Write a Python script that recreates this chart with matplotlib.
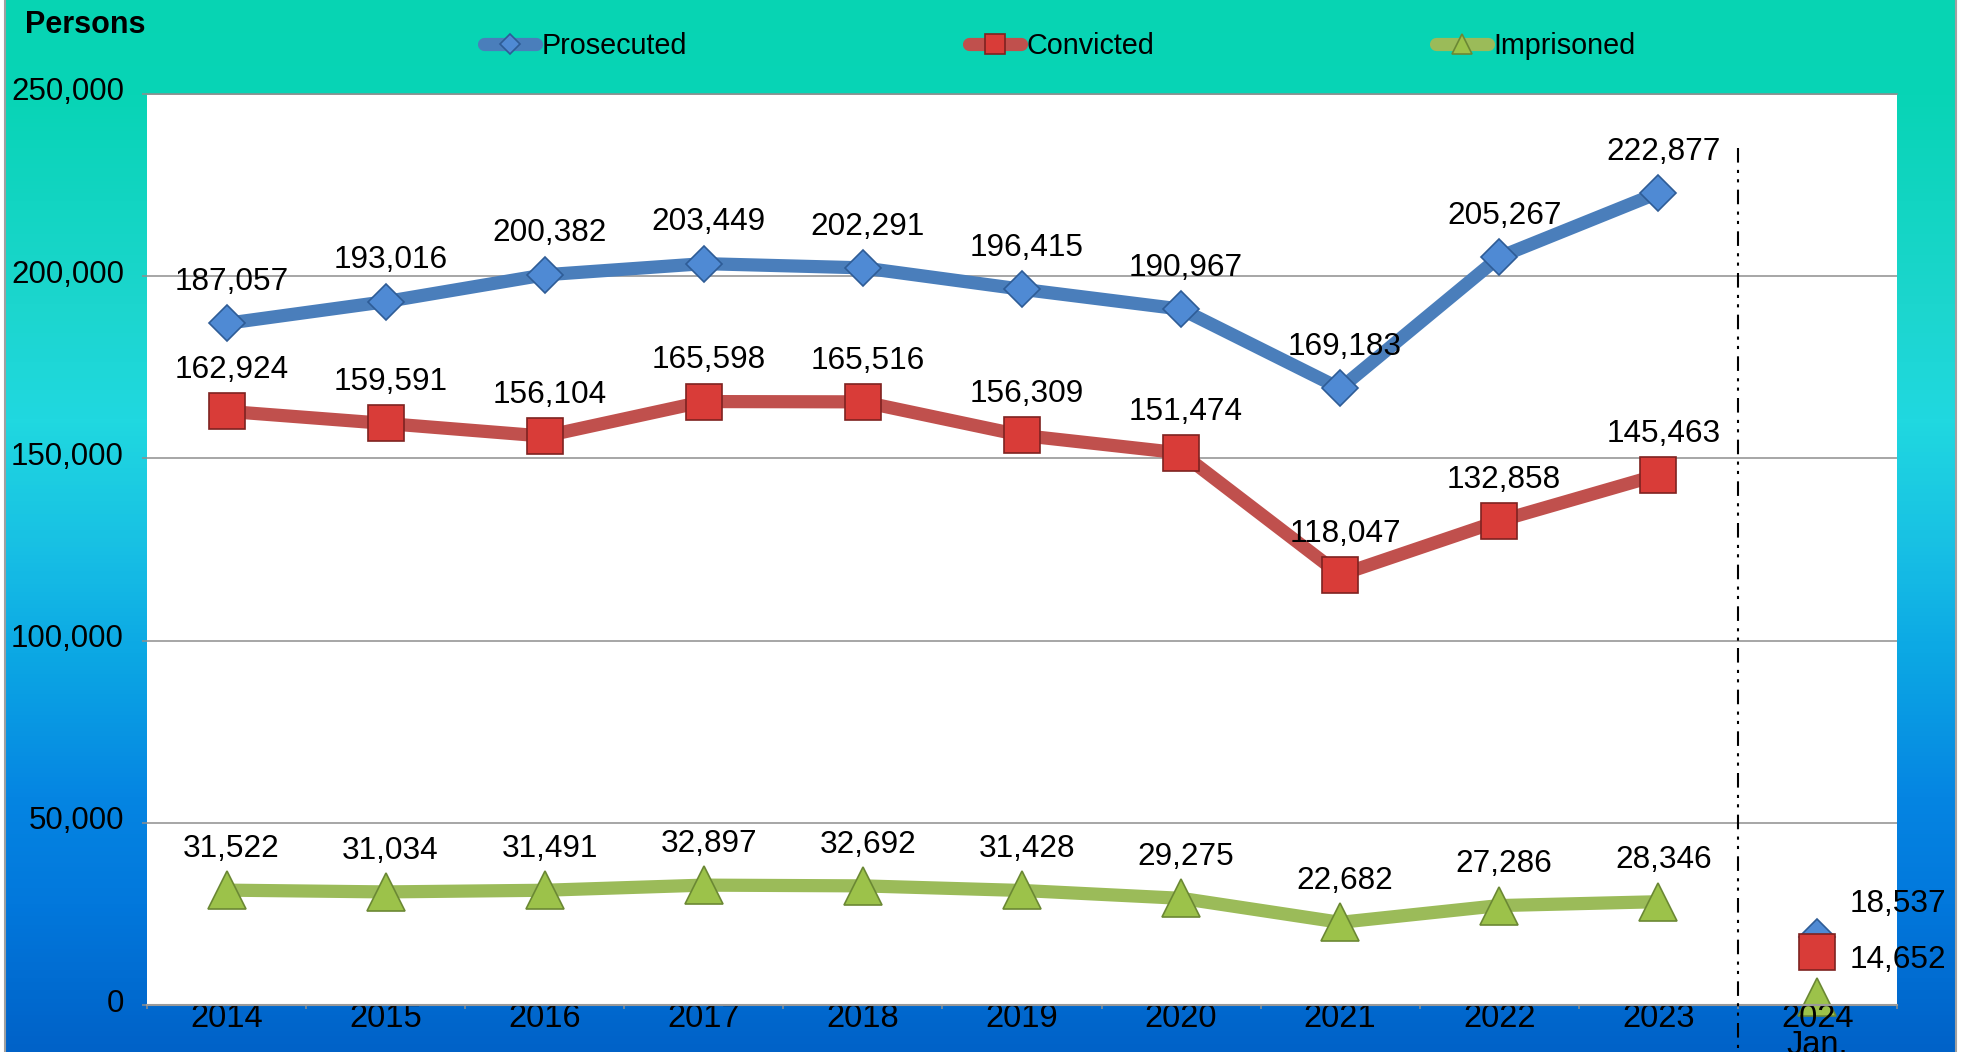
import numpy as np
import matplotlib
matplotlib.use('Agg')
import matplotlib.pyplot as plt
from matplotlib.colors import LinearSegmentedColormap
from matplotlib.lines import Line2D
from matplotlib.ticker import FuncFormatter, FixedLocator
from matplotlib.transforms import ScaledTranslation

plt.rcParams['font.family'] = ['Liberation Sans', 'DejaVu Sans']

# data
years = ['2014', '2015', '2016', '2017', '2018', '2019', '2020', '2021', '2022', '2023', '2024\nJan.']
prosecuted = [187057, 193016, 200382, 203449, 202291, 196415, 190967, 169183, 205267, 222877, 18537]
convicted = [162924, 159591, 156104, 165598, 165516, 156309, 151474, 118047, 132858, 145463, 14652]
imprisoned = [31522, 31034, 31491, 32897, 32692, 31428, 29275, 22682, 27286, 28346, 2100]

W, H = 1974, 1052
fig = plt.figure(figsize=(W / 100, H / 100), dpi=100, facecolor='white')

# gradient background of the chart area
bg = fig.add_axes([5 / W, 0, (1956 - 5) / W, 1], zorder=-10)
cmap = LinearSegmentedColormap.from_list('bg', [
    (0.0, '#07D4B3'), (0.09, '#08D4B6'), (0.29, '#1CD6CE'), (0.40, '#20D8E0'),
    (0.52, '#18C0E4'), (0.62, '#0CA8E4'), (0.76, '#0585E2'), (0.86, '#0278DC'),
    (1.0, '#0062C8')])
bg.imshow(np.linspace(0, 1, 256).reshape(-1, 1), aspect='auto', cmap=cmap)
bg.set_axis_off()
for xb in (5 / W, 1956 / W):
    fig.add_artist(Line2D([xb, xb], [0, 1], color='#A0A0A0', lw=1.5))

ax = fig.add_axes([147 / W, 47 / H, 1750 / W, 911 / H])
ax.set_facecolor('white')

x = np.arange(len(years))
series = [
    ('Prosecuted', prosecuted, '#4A7EBB', 'D', 18.8, '#4F8AD4', '#2E5C96'),
    ('Convicted', convicted, '#C0504D', 's', 26.5, '#D93C38', '#7E2220'),
    ('Imprisoned', imprisoned, '#9BBB59', '^', 27, '#9CC24A', '#6B8834'),
]

handles = []
for name, vals, lc, mk, ms, mfc, mec in series:
    h, = ax.plot(x[:10], vals[:10], color=lc, lw=9.5, marker=mk, ms=ms,
                 mfc=mfc, mec=mec, mew=1.2, solid_capstyle='round',
                 solid_joinstyle='round', clip_on=False, label=name)
    ax.plot(x[10:], vals[10:], ls='none', marker=mk, ms=ms, mfc=mfc, mec=mec,
            mew=1.2, clip_on=False, zorder=1.4 if mk == '^' else 2)
    handles.append(h)
    for xi, v in zip(x[:10], vals[:10]):
        ax.annotate(f'{v:,}', (xi, v), xytext=(3.5, 24), textcoords='offset points',
                    ha='center', va='baseline', fontsize=22.7, color='black')

# January 2024 labels
ax.annotate(f'{prosecuted[10]:,}', (x[10], prosecuted[10]), xytext=(23, 18.4),
            textcoords='offset points', ha='left', va='baseline', fontsize=22.7)
ax.annotate(f'{convicted[10]:,}', (x[10], convicted[10]), xytext=(23, -11.8),
            textcoords='offset points', ha='left', va='baseline', fontsize=22.7)

# separator between annual and monthly data
ax.plot([9.5, 9.5], [235200, -13500], color='black', lw=1.5,
        ls=(0, (7, 3.5, 1.5, 3, 1.5, 3.5)), clip_on=False, zorder=3)

ax.set_xlim(-0.5, 10.5)
ax.set_ylim(0, 250000)
ax.yaxis.set_major_locator(FixedLocator(np.arange(0, 250001, 50000)))
ax.yaxis.set_major_formatter(FuncFormatter(lambda v, p: f'{int(v):,}'))
ax.grid(axis='y', color='#8E8E8E', lw=1.1)
ax.set_xticks(x)
ax.set_xticklabels(years, fontsize=23.5, linespacing=0.85)
ax.set_xticks(np.arange(-0.5, 10.6, 1), minor=True)
ax.tick_params(axis='x', which='major', length=0, pad=-1.5)
ax.tick_params(axis='x', which='minor', length=3, width=1.1, color='#8E8E8E', direction='out')
ax.tick_params(axis='y', length=3.6, width=1.1, color='#8E8E8E', direction='out',
               pad=13, labelsize=22.5)
off = ScaledTranslation(0, 0.05, fig.dpi_scale_trans)
for lab in ax.get_yticklabels():
    lab.set_transform(lab.get_transform() + off)

for side in ('left', 'right'):
    ax.spines[side].set_visible(False)
ax.spines['top'].set_color('#8E8E8E')
ax.spines['top'].set_linewidth(1.1)
ax.spines['bottom'].set_color('#9A9A9A')
ax.spines['bottom'].set_linewidth(1.5)

fig.text(25 / W, 1 - 33 / H, 'Persons', fontsize=22, fontweight='bold', va='baseline')

fig.legend(handles=handles, loc='center', bbox_to_anchor=(0.537, 0.956), ncol=3,
           frameon=False, fontsize=20.7, handlelength=1.8, handletextpad=0.2,
           columnspacing=9.8, markerscale=0.55, borderpad=0)

fig.savefig('out.png', dpi=100, facecolor=fig.get_facecolor())
